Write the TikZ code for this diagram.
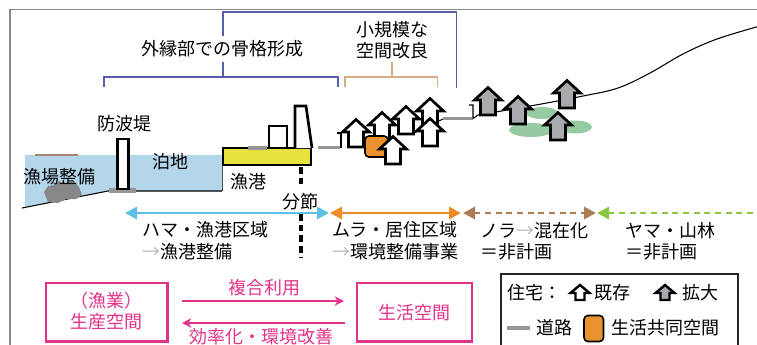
\documentclass[tikz,border=0pt]{standalone}
\usepackage{fontspec}
\setmainfont{Noto Sans CJK JP}
\usetikzlibrary{arrows.meta}

\definecolor{framegray}{RGB}{135,135,135}
\definecolor{water}{RGB}{180,214,234}
\definecolor{pier}{RGB}{232,226,64}
\definecolor{commons}{RGB}{234,146,48}
\definecolor{road}{RGB}{150,150,150}
\definecolor{rubble}{RGB}{135,135,135}
\definecolor{reefline}{RGB}{170,130,115}
\definecolor{bracketblue}{RGB}{85,95,170}
\definecolor{brackettan}{RGB}{215,172,135}
\definecolor{pinkline}{RGB}{226,50,138}
\definecolor{hamablue}{RGB}{95,190,230}
\definecolor{muraorange}{RGB}{240,140,40}
\definecolor{norabrown}{RGB}{170,125,85}
\definecolor{yamagreen}{RGB}{140,198,63}
\definecolor{grove}{RGB}{150,202,160}
\definecolor{grownhouse}{RGB}{168,170,174}
\definecolor{thinarrow}{RGB}{185,185,185}

\tikzset{
  lbl/.style={font=\fontsize{13.5}{16}\selectfont, inner sep=0pt},
  pinklbl/.style={lbl, text=pinkline},
  bracket/.style={line width=1pt},
  outline/.style={draw=black, line width=2pt},
  roadline/.style={draw=road, line width=2.4pt},
  ground/.style={draw=black, line width=0.8pt},
  zone/.style={line width=2.2pt},
  pinkarrow/.style={draw=pinkline, line width=1.6pt, -{Stealth[length=7pt,width=7pt]}},
  pics/hut/.style={code={
    \draw[line width=2pt, fill=#1] (-7.5,0) -- (-7.5,-15) -- (-13.5,-15) -- (0,-27.5)
      -- (13.5,-15) -- (7.5,-15) -- (7.5,0) -- cycle;}},
  pics/hutkey/.style={code={
    \draw[line width=1.8pt, fill=#1] (-4.5,0) -- (-4.5,-7) -- (-9.5,-7) -- (0,-15)
      -- (9.5,-7) -- (4.5,-7) -- (4.5,0) -- cycle;}}
}

\begin{document}
\begin{tikzpicture}[x=0.75pt, y=-0.75pt, line join=miter]
\clip (0,0) rectangle (757,344);
\fill[white] (0,0) rectangle (757,344);

% outer frame
\draw[framegray, line width=1.2pt] (10,350) -- (10,9.5) -- (760,9.5);

% brackets above the section
\draw[bracketblue, bracket] (223,36) -- (223,12) -- (456.5,12) -- (456.5,88);
\draw[bracketblue, bracket] (223,62) -- (223,77);
\draw[bracketblue, bracket] (104,87) -- (104,77) -- (338,77) -- (338,87);
\node[lbl] (outer) at (222,49) {外縁部での骨格形成};
\draw[brackettan, bracket] (345,87) -- (345,77) -- (437.5,77) -- (437.5,87);
\draw[brackettan, bracket] (392,62) -- (392,77);
\node[lbl, align=center, font=\fontsize{13.5}{15.8}\selectfont] (small) at (392,40.5) {小規模な\\空間改良};

% sea, seabed and reef
\fill[water] (25,155) -- (222,155) -- (222,191) -- (108,191) -- (25,207) -- cycle;
\draw[black!70, line width=0.6pt] (222,155) -- (222,191);
\draw[ground] (22,208) -- (108,191) -- (222,191);
\draw[reefline, line width=2pt] (35,155) -- (78,155);
\fill[rubble] (44,192) -- (48,186) -- (55,185) -- (58,181) -- (66,183) -- (74,181)
  -- (79,187) -- (82,195) -- (76,199) -- (66,199) -- (58,203) -- (48,202) -- (46,197) -- cycle;

% breakwater
\fill[road] (109,188) rectangle (136,192.5);
\draw[outline, fill=white] (117.5,139) rectangle (128.5,189);
\node[lbl] (dike) at (124,124) {防波堤};
\node[lbl] (berth) at (170,162) {泊地};
\node[lbl] (reef) at (59.5,177) {漁場整備};

% port quay and buildings
\draw[outline, fill=pier] (223,148) rectangle (311,165);
\draw[road, line width=2.4pt] (248,148) -- (267,148);
\draw[outline, fill=white] (269,126) rectangle (287,148);
\draw[outline, fill=white] (295,148) -- (295,106) -- (306,106) -- (312,148);
\node[lbl] (port) at (248,182) {漁港};

% roads and ground profile
\draw[roadline] (318,147.5) -- (340,147.5);
\draw[ground] (337,133) -- (341,133) -- (341,148);
\draw[ground] (412,134) -- (443,119);
\draw[roadline] (443,118.5) -- (472,118.5);
\draw[ground] (469,105) -- (473,105) -- (473,118.5) -- (478,115);
\draw[ground] plot[smooth, tension=0.6] coordinates
  {(478,115) (533,105.5) (583,96) (618,88) (650,73) (683,54) (717,39) (760,26)};

% village: existing houses and the shared space
\pic at (356,147) {hut=white};
\pic at (382,140) {hut=white};
\pic at (406,134) {hut=white};
\pic at (430,126) {hut=white};
\pic at (430,146) {hut=white};
\draw[line width=1.2pt, fill=commons, rounded corners=3pt] (365,136) rectangle (388,157);
\pic at (393,164) {hut=white};

% hillside groves and enlarged houses
\fill[grove] (542,113) ellipse [x radius=16, y radius=6];
\fill[grove] (531,130) ellipse [x radius=22, y radius=7];
\fill[grove] (575,127) ellipse [x radius=17, y radius=6.5];
\pic at (488,115) {hut=grownhouse};
\pic at (518,124) {hut=grownhouse};
\pic at (567,108) {hut=grownhouse};
\pic at (558,140) {hut=grownhouse};

% articulation line
\node[lbl] (joint) at (300,202) {分節};
\draw[line width=2.4pt, dash pattern=on 5pt off 3pt] (301,167) -- (301,187);
\draw[line width=2.4pt, dash pattern=on 5pt off 3pt] (301,214) -- (301,257);

% zone arrows
\coordinate (z0) at (125,213);
\coordinate (z1) at (329,213);
\coordinate (z1b) at (330,213);
\coordinate (z2) at (461,213);
\coordinate (z2b) at (463,213);
\coordinate (z3) at (596,213);
\coordinate (z3b) at (597,213);
\coordinate (z4) at (760,213);
\draw[zone, hamablue, {Triangle[length=9pt,width=9pt]}-{Triangle[length=9pt,width=9pt]}] (z0) -- (z1);
\draw[zone, muraorange, {Triangle[length=9pt,width=9pt]}-{Triangle[length=9pt,width=9pt]}] (z1b) -- (z2);
\draw[zone, norabrown, dash pattern=on 4.5pt off 3.5pt, {Triangle[length=9pt,width=9pt]}-{Triangle[length=9pt,width=9pt]}] (z2b) -- (z3);
\draw[zone, yamagreen, dash pattern=on 4.5pt off 3.5pt, {Triangle[length=9pt,width=9pt]}-] (z3b) -- (z4);

% zone captions
\node[lbl, anchor=west] (hama1) at (142,230) {ハマ・漁港区域};
\node[lbl, anchor=west] (hama2) at (142,252) {{\color{thinarrow}→}漁港整備};
\node[lbl, anchor=west] (mura1) at (332,230) {ムラ・居住区域};
\node[lbl, anchor=west] (mura2) at (332,252) {{\color{thinarrow}→}環境整備事業};
\node[lbl, anchor=west] (nora1) at (480,231) {ノラ{\color{thinarrow}→}混在化};
\node[lbl, anchor=west] (nora2) at (480,252) {＝非計画};
\node[lbl, anchor=west] (yama1) at (625,231) {ヤマ・山林};
\node[lbl, anchor=west] (yama2) at (625,252) {＝非計画};

% production space and living space
\draw[pinkline, line width=1.8pt] (46,283) rectangle (167.5,341.5);
\node[pinklbl] (prod1) at (106,301) {（漁業）};
\node[pinklbl] (prod2) at (106,322) {生産空間};
\draw[pinkline, line width=1.8pt] (357,283) rectangle (472,341.5);
\node[pinklbl] (life) at (414,313) {生活空間};
\coordinate (pa) at (182,301);
\coordinate (pb) at (344,301);
\coordinate (pc) at (345,323);
\coordinate (pd) at (182,323);
\draw[pinkarrow] (pa) -- (pb);
\draw[pinkarrow] (pc) -- (pd);
\node[pinklbl] (mixed) at (264,288) {複合利用};
\node[pinklbl] (improve) at (261,337) {効率化・環境改善};

% legend
\draw[black!85, line width=0.8pt] (501,274) rectangle (738,360);
\node[lbl, anchor=west] (keyhouse) at (507,293) {住宅：};
\pic at (580,300) {hutkey=white};
\node[lbl, anchor=west] (keyold) at (594,293) {既存};
\pic at (665,300) {hutkey=grownhouse};
\node[lbl, anchor=west] (keynew) at (682,293) {拡大};
\draw[roadline, line width=3pt] (507,328) -- (530,328);
\node[lbl, anchor=west] (keyroad) at (536,328) {道路};
\draw[line width=1.2pt, fill=commons, rounded corners=3pt] (584,315.5) rectangle (603.5,341.5);
\node[lbl, anchor=west] (keycommon) at (611,328) {生活共同空間};
\end{tikzpicture}
\end{document}
